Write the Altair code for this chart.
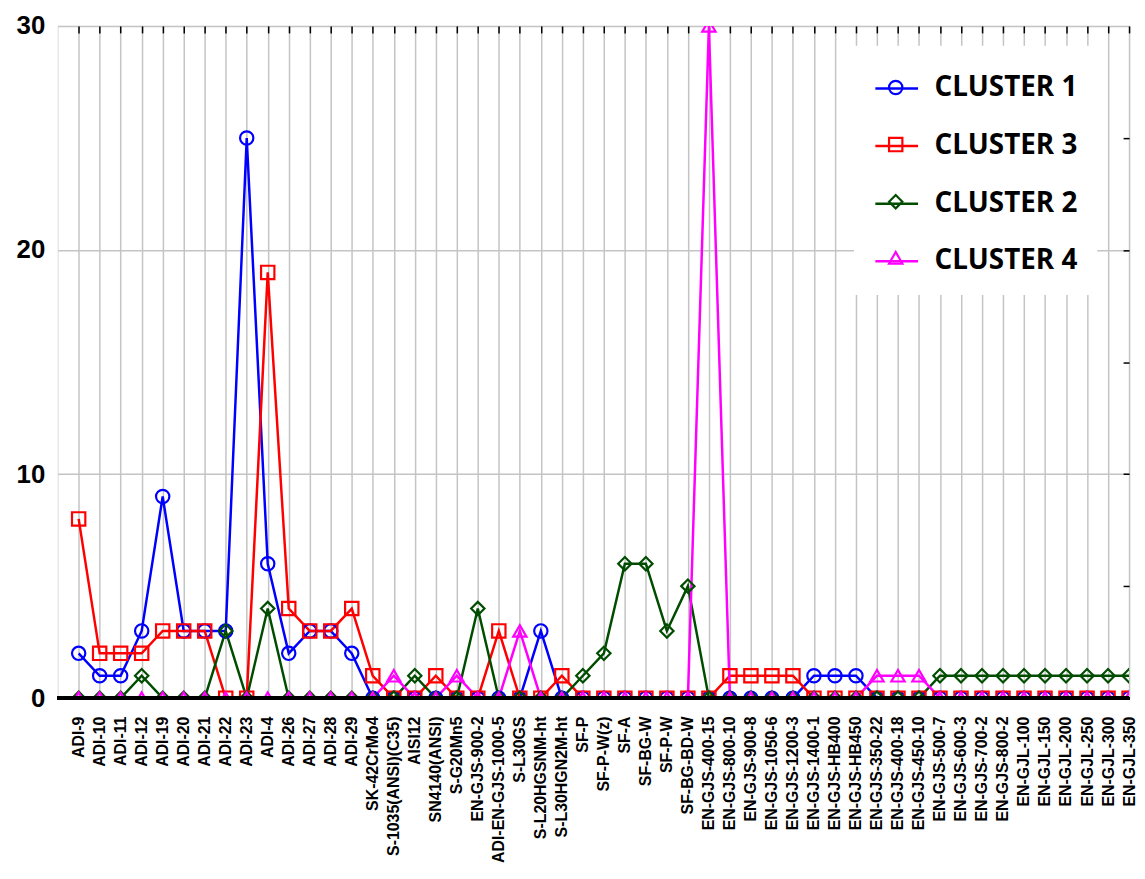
import altair as alt
import pandas as pd

categories = ["ADI-9", "ADI-10", "ADI-11", "ADI-12", "ADI-19", "ADI-20", "ADI-21", "ADI-22",
              "ADI-23", "ADI-4", "ADI-26", "ADI-27", "ADI-28", "ADI-29", "SK-42CrMo4",
              "S-1035(ANSI)(C35)", "AISI12", "SN4140(ANSI)", "S-G20Mn5", "EN-GJS-900-2",
              "ADI-EN-GJS-1000-5", "S-L30GS", "S-L20HGSNM-ht", "S-L30HGN2M-ht", "SF-P",
              "SF-P-W(z)", "SF-A", "SF-BG-W", "SF-P-W", "SF-BG-BD-W", "EN-GJS-400-15",
              "EN-GJS-800-10", "EN-GJS-900-8", "EN-GJS-1050-6", "EN-GJS-1200-3",
              "EN-GJS-1400-1", "EN-GJS-HB400", "EN-GJS-HB450", "EN-GJS-350-22",
              "EN-GJS-400-18", "EN-GJS-450-10", "EN-GJS-500-7", "EN-GJS-600-3",
              "EN-GJS-700-2", "EN-GJS-800-2", "EN-GJL-100", "EN-GJL-150", "EN-GJL-200",
              "EN-GJL-250", "EN-GJL-300", "EN-GJL-350"]

cluster1 = [2, 1, 1, 3, 9, 3, 3, 3, 25, 6, 2, 3, 3, 2,
            0, 0, 0, 0, 0, 0, 0, 0,
            3,
            0, 0, 0, 0, 0, 0, 0, 0, 0, 0, 0, 0,
            1, 1, 1,
            0, 0, 0, 0, 0, 0, 0, 0, 0, 0, 0, 0, 0]
cluster3 = [8, 2, 2, 2, 3, 3, 3, 0, 0, 19, 4, 3, 3, 4,
            1, 0, 0, 1, 0, 0, 3, 0, 0, 1,
            0, 0, 0, 0, 0, 0, 0,
            1, 1, 1, 1,
            0, 0, 0, 0, 0, 0, 0, 0, 0, 0, 0, 0, 0, 0, 0, 0]
cluster2 = [0, 0, 0, 1, 0, 0, 0, 3, 0, 4, 0, 0, 0, 0, 0, 0, 1, 0, 0, 4,
            0, 0, 0, 0, 1, 2, 6, 6, 3, 5,
            0, 0, 0, 0, 0, 0, 0, 0, 0, 0, 0,
            1, 1, 1, 1, 1, 1, 1, 1, 1, 1]
cluster4 = [0, 0, 0, 0, 0, 0, 0, 0, 0, 0, 0, 0, 0, 0, 0,
            1, 0, 0, 1, 0, 0, 3,
            0, 0, 0, 0, 0, 0, 0, 0,
            30,
            0, 0, 0, 0, 0, 0, 0,
            1, 1, 1,
            0, 0, 0, 0, 0, 0, 0, 0, 0, 0]

series_names = ["CLUSTER 1", "CLUSTER 3", "CLUSTER 2", "CLUSTER 4"]
series_keys = ["c1", "c3", "c2", "c4"]
series_values = [cluster1, cluster3, cluster2, cluster4]
series_colors = ["#0000ff", "#ff0000", "#004d00", "#ff00ff"]
series_shapes = ["circle", "square", "diamond", "triangle-up"]

rows = []
for name, key, vals in zip(series_names, series_keys, series_values):
    for cat, v in zip(categories, vals):
        rows.append({"cat": cat, "value": v, "cluster": name, "grp": key})
df = pd.DataFrame(rows)

FONT_AX = "Liberation Sans"
LEG_FONT = "Open Sans"
LX, LY = 802, 20
LPAD = 20

xscale = alt.Scale(type="point", padding=0.5, align=1)
yscale = alt.Scale(domain=[0, 30], nice=False)

base = alt.Chart(df)

lines = base.mark_line(strokeWidth=2.5, clip=True).encode(
    x=alt.X("cat:N", sort=categories, scale=xscale, title=None,
            axis=alt.Axis(orient="bottom", labelAngle=270, labelFont=FONT_AX,
                          labelFontSize=16, labelFontWeight="bold", labelColor="black",
                          labelPadding=18, ticks=False, domain=False, labelOverlap=False,
                          labelLimit=300, grid=True, gridColor="#c4c4c4", gridWidth=1.5)),
    y=alt.Y("value:Q", scale=yscale, title=None,
            axis=alt.Axis(orient="left", values=[0, 10, 20, 30], labelFont=FONT_AX,
                          labelFontSize=26, labelFontWeight="bold", labelColor="black",
                          labelPadding=13, ticks=False, domain=False, grid=True,
                          gridColor="#c4c4c4", gridWidth=1.5)),
    color=alt.Color("cluster:N",
                    scale=alt.Scale(domain=series_names, range=series_colors),
                    legend=alt.Legend(orient="none", legendX=LX, legendY=LY, title=None,
                                      fillColor="white", padding=LPAD, rowPadding=21,
                                      symbolType="stroke", symbolSize=1849,
                                      symbolStrokeWidth=2.5, labelOffset=15,
                                      labelFont=LEG_FONT, labelFontSize=28,
                                      labelFontWeight="bold", labelColor="black",
                                      labelLimit=400)),
    detail="cluster:N",
)

leg_pts = alt.Legend(orient="none", legendX=LX + LPAD + 14, legendY=LY + LPAD + 14,
                     title=None, padding=0, rowPadding=33.5, symbolSize=180,
                     symbolStrokeWidth=2.2, labelOffset=0, labelExpr="''",
                     labelFontSize=1, labelLimit=1)

points = base.mark_point(filled=False, size=180, strokeWidth=2.2, opacity=1, clip=True).encode(
    x=alt.X("cat:N", sort=categories, scale=xscale, title=None,
            axis=alt.Axis(orient="top", labels=False, domain=False, grid=False,
                          ticks=True, tickSize=7, offset=-7, tickColor="black",
                          tickWidth=1.5)),
    y=alt.Y("value:Q", scale=yscale, title=None,
            axis=alt.Axis(orient="right", values=[5, 10, 15, 20, 25], labels=False,
                          domain=False, grid=False, ticks=True, tickSize=6, offset=-6,
                          tickColor="black", tickWidth=1.5)),
    shape=alt.Shape("grp:N", scale=alt.Scale(domain=series_keys, range=series_shapes),
                    legend=leg_pts),
    stroke=alt.Stroke("grp:N", scale=alt.Scale(domain=series_keys, range=series_colors),
                      legend=leg_pts),
)

baseline = alt.Chart(df).mark_rule(color="black", strokeWidth=3).encode(
    y=alt.YDatum(0, axis=None, scale=yscale)
)

chart = alt.layer(lines, points, baseline).properties(
    width=1079, height=677,
    autosize=alt.AutoSizeParams(type="none"),
    padding={"left": 50, "top": 15, "right": 8, "bottom": 171},
).configure_view(stroke="black", strokeWidth=2.5).configure(background="white")

chart.save("out.html", embed_options={"renderer": "svg", "actions": False})
